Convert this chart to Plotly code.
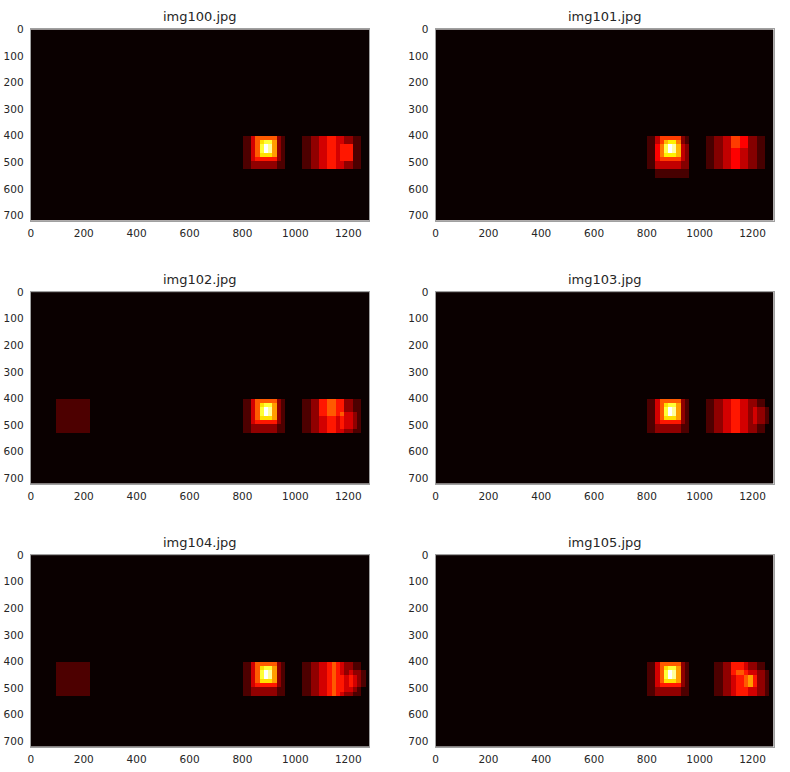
import numpy as np
import plotly.graph_objects as go

# ---------------- data ----------------
IMG_W, IMG_H = 1280, 720
CELL = 16

titles = ["img100.jpg", "img101.jpg", "img102.jpg", "img103.jpg", "img104.jpg", "img105.jpg"]
x_ticks = [0, 200, 400, 600, 800, 1000, 1200]
y_ticks = [0, 100, 200, 300, 400, 500, 600, 700]

# detection windows (x0, y0, x1, y1) whose overlaps make up each heat map
left_car_common = [
    (800, 400, 928, 528), (832, 400, 960, 528), (832, 400, 944, 496),
    (848, 400, 928, 496), (848, 400, 928, 480), (864, 416, 928, 480),
    (864, 416, 912, 480), (864, 432, 912, 464), (880, 416, 912, 464),
    (880, 432, 896, 464),
]

boxes_img100 = left_car_common + [
    (1024, 400, 1152, 528), (1056, 400, 1184, 528), (1088, 400, 1216, 528),
    (1120, 400, 1248, 528), (1168, 432, 1216, 496), (1184, 432, 1216, 496),
]
boxes_img101 = left_car_common + [
    (832, 432, 960, 560),
    (1024, 400, 1152, 528), (1056, 400, 1184, 528), (1088, 400, 1216, 528),
    (1120, 400, 1248, 528), (1120, 400, 1184, 448),
]
boxes_img102 = left_car_common + [
    (96, 400, 224, 528),
    (1024, 400, 1152, 528), (1056, 400, 1184, 528), (1088, 400, 1216, 528),
    (1120, 400, 1248, 528), (1088, 400, 1184, 464), (1168, 448, 1232, 512),
]
boxes_img103 = left_car_common + [
    (1024, 400, 1152, 528), (1056, 400, 1184, 528), (1088, 400, 1216, 528),
    (1120, 400, 1248, 528), (1200, 432, 1264, 496),
]
boxes_img104 = left_car_common + [
    (96, 400, 224, 528),
    (1024, 400, 1152, 528), (1056, 400, 1184, 528), (1088, 400, 1216, 528),
    (1120, 400, 1248, 528), (1136, 400, 1168, 528), (1168, 448, 1232, 512),
    (1200, 432, 1264, 496),
]
boxes_img105 = left_car_common + [
    (1056, 400, 1184, 528), (1088, 400, 1216, 528), (1120, 400, 1248, 528),
    (1136, 432, 1264, 528), (1120, 400, 1168, 448),
    (1168, 448, 1216, 496), (1184, 448, 1200, 496), (1184, 448, 1200, 496),
]

all_boxes = [boxes_img100, boxes_img101, boxes_img102,
             boxes_img103, boxes_img104, boxes_img105]

# matplotlib "hot" colour map
hot_scale = [
    [0.0, "rgb(10,0,0)"],
    [0.365079, "rgb(255,0,0)"],
    [0.746032, "rgb(255,255,0)"],
    [1.0, "rgb(255,255,255)"],
]


def heat_from_boxes(boxes):
    heat = np.zeros((IMG_H // CELL, IMG_W // CELL))
    for x0, y0, x1, y1 in boxes:
        heat[y0 // CELL:y1 // CELL, x0 // CELL:x1 // CELL] += 1
    return heat


# ---------------- layout geometry (pixels of the 790x772 page) ----------------
W, H = 790, 772
col_px = [(30.7, 369.3), (435.5, 773.5)]
row_px = [(29.3, 220.7), (292.0, 483.5), (555.0, 746.5)]

fig = go.Figure()
layout = dict(
    width=W, height=H,
    margin=dict(l=0, r=0, t=0, b=0, autoexpand=False),
    paper_bgcolor="white", plot_bgcolor="white",
    showlegend=False,
    font=dict(family="DejaVu Sans", size=10, color="#262626"),
    annotations=[],
)

for i, (title, boxes) in enumerate(zip(titles, all_boxes)):
    r, c = divmod(i, 2)
    z = heat_from_boxes(boxes)
    n = "" if i == 0 else str(i + 1)
    fig.add_trace(go.Heatmap(
        z=z, x0=CELL / 2, dx=CELL, y0=CELL / 2, dy=CELL,
        colorscale=hot_scale, zmin=0, zmax=float(z.max()),
        showscale=False, hoverinfo="skip",
        xaxis="x" + n, yaxis="y" + n,
    ))
    x0p, x1p = col_px[c]
    y0p, y1p = row_px[r]
    layout["xaxis" + n] = dict(
        domain=[x0p / W, x1p / W], anchor="y" + n,
        range=[-0.5, IMG_W - 0.5], tickvals=x_ticks,
        showgrid=False, zeroline=False, showline=True, mirror=True,
        linecolor="#a0a0a0", linewidth=1, ticks="", ticklabelstandoff=3,
        tickfont=dict(size=10.5, color="#262626"),
    )
    layout["yaxis" + n] = dict(
        domain=[1 - y1p / H, 1 - y0p / H], anchor="x" + n,
        range=[IMG_H - 0.5, -0.5], tickvals=y_ticks,
        showgrid=False, zeroline=False, showline=True, mirror=True,
        linecolor="#a0a0a0", linewidth=1, ticks="", ticklabelstandoff=4,
        tickfont=dict(size=10.5, color="#262626"),
    )
    layout["annotations"].append(dict(
        text=title, xref="paper", yref="paper",
        x=(x0p + x1p) / 2 / W, y=1 - (y0p - 3) / H,
        xanchor="center", yanchor="bottom", showarrow=False,
        font=dict(family="DejaVu Sans", size=13, color="#262626"),
    ))

fig.update_layout(**layout)
fig.write_html(
    "out.html",
    config={"displayModeBar": False, "staticPlot": True},
    post_script="document.body.style.margin='0px';document.body.style.overflow='hidden';",
)
